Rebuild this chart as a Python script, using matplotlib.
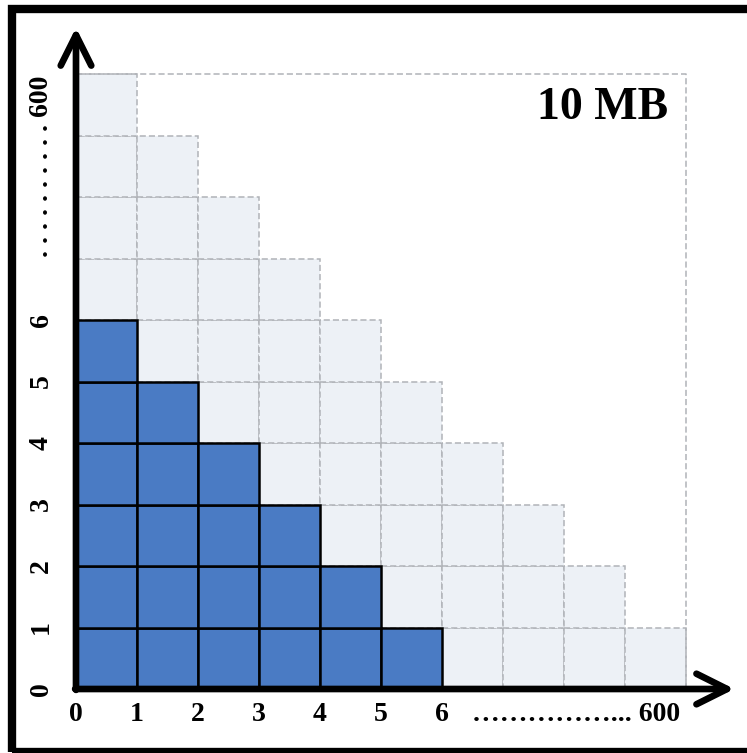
import numpy as np
import matplotlib
matplotlib.use("Agg")
import matplotlib.pyplot as plt
from matplotlib.patches import Rectangle

# dados do grafico
colunas = np.arange(10)
altura_total = [10, 9, 8, 7, 6, 5, 4, 3, 2, 1]
altura_azul = [6, 5, 4, 3, 2, 1]
ticks_x = ["0", "1", "2", "3", "4", "5", "6"]
ticks_y = ["0", "1", "2", "3", "4", "5", "6"]
rotulo_fim_x = "\u2026" * 5 + "... 600"
rotulo_fim_y = ". " * 10 + "600"
titulo = "10 MB"

cor_azul = "#4a7bc4"
cor_cinza = "#edf1f6"
cor_tracejado = "#b0b3b8"

# geometria em pixeis (origem e tamanho da celula)
W, H = 747, 753
ox, oy = 76, 689
cw, ch = 61.0, 61.5

fig = plt.figure(figsize=(W / 100, H / 100), dpi=100)
ax = fig.add_axes([0, 0, 1, 1])
ax.set_xlim(-ox / cw, (W - ox) / cw)
ax.set_ylim(-(H - oy) / ch, oy / ch)
ax.axis("off")

# celulas cinzentas tracejadas
for linha in range(max(altura_total)):
    cols = [c for c, h in zip(colunas, altura_total) if h > linha]
    ax.bar(cols, 1, bottom=linha, width=1, align="edge", color=cor_cinza,
           edgecolor=cor_tracejado, linewidth=1.1, linestyle=(0, (4, 2)), zorder=1)

# contorno exterior tracejado
ax.plot([0, 10, 10], [10, 10, 0], color=cor_tracejado, lw=1.1,
        linestyle=(0, (4, 2)), zorder=1)

# celulas azuis
for linha in range(max(altura_azul)):
    cols = [c for c, h in zip(colunas, altura_azul) if h > linha]
    ax.bar(cols, 1, bottom=linha, width=1, align="edge", color=cor_azul,
           edgecolor="black", linewidth=1.8, zorder=2)

# eixos com setas
seta = dict(arrowstyle="->,head_length=1.1,head_width=0.55", lw=4.8,
            color="black", mutation_scale=20, capstyle="round")
ax.annotate("", xy=(10.84, 0), xytext=(-0.06, 0), arrowprops=seta, zorder=5)
ax.annotate("", xy=(0, 10.8), xytext=(0, -0.06), arrowprops=seta, zorder=5)

fonte = dict(family="Liberation Serif", fontsize=20, fontweight="bold", color="black")
for i, t in enumerate(ticks_x):
    ax.text(i, -0.42, t, ha="center", va="center", **fonte)
ax.text(9.9, -0.42, rotulo_fim_x, ha="right", va="center", **fonte)
for i, t in enumerate(ticks_y):
    ax.text(-0.57, i, t, ha="center", va="center", rotation=90, **fonte)
ax.text(-0.57, 9.98, rotulo_fim_y, ha="center", va="top", rotation=90, **fonte)

ax.text(8.64, 9.45, titulo, ha="center", va="center", family="Liberation Serif",
        fontsize=33, fontweight="bold", color="black")

# moldura preta
fig.patches.append(Rectangle((12 / W, 1 - 752 / H), (758 - 12) / W, (752 - 9) / H,
                             transform=fig.transFigure, fill=False,
                             edgecolor="black", linewidth=6))

fig.savefig("out.png", dpi=100, facecolor="white")
